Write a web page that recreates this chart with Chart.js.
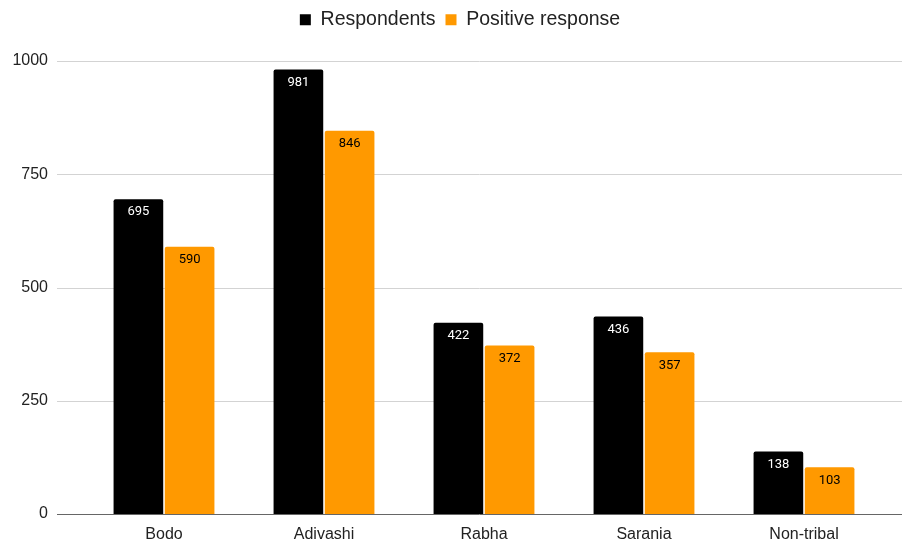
<!DOCTYPE html>
<html>
<head>
<meta charset="utf-8">
<script src="https://cdn.jsdelivr.net/npm/chart.js@4"></script>
<style>
  html, body { margin: 0; padding: 0; background: #fff; overflow: hidden; }
  canvas { display: block; }
</style>
</head>
<body>
<canvas id="chart" width="902" height="544"></canvas>
<script>
const categories = ['Bodo', 'Adivashi', 'Rabha', 'Sarania', 'Non-tribal'];
const respondents = [695, 981, 422, 436, 138];
const positive = [590, 846, 372, 357, 103];
const yTicks = [0, 250, 500, 750, 1000];

// grid lines run wider than the plot area, like the original
const gridPlugin = {
    id: 'wideGrid',
    beforeDatasetsDraw(chart) {
        const ctx = chart.ctx;
        const y = chart.scales.y;
        ctx.save();
        yTicks.forEach(t => {
            const py = Math.round(y.getPixelForValue(t)) + 0.5;
            ctx.strokeStyle = t === 0 ? '#666666' : '#d3d3d3';
            ctx.lineWidth = 1;
            ctx.beginPath();
            ctx.moveTo(57, py);
            ctx.lineTo(chart.width, py);
            ctx.stroke();
        });
        ctx.restore();
    }
};

// value labels inside top of each bar
const labelPlugin = {
    id: 'barLabels',
    afterDatasetsDraw(chart) {
        const ctx = chart.ctx;
        ctx.save();
        ctx.font = '13px Roboto';
        ctx.textAlign = 'center';
        ctx.textBaseline = 'middle';
        chart.data.datasets.forEach((ds, i) => {
            chart.getDatasetMeta(i).data.forEach((bar, j) => {
                ctx.fillStyle = i === 0 ? '#ffffff' : '#000000';
                ctx.fillText(ds.data[j], bar.x, bar.y + 13);
            });
        });
        ctx.restore();
    }
};

// taller legend box, and centre it a bit to the right like the original
const legendFit = {
    id: 'legendFit',
    beforeInit(chart) {
        const fit = chart.legend.fit;
        chart.legend.fit = function() {
            fit.bind(chart.legend)();
            this.height = 61;
        };
    },
    afterLayout(chart) {
        chart.legend.left += 18;
        chart.legend.right += 18;
    }
};

new Chart(document.getElementById('chart'), {
    type: 'bar',
    data: {
        labels: categories,
        datasets: [
            { label: 'Respondents', data: respondents, backgroundColor: '#000000' },
            { label: 'Positive response', data: positive, backgroundColor: '#ff9900' }
        ]
    },
    options: {
        responsive: false,
        animation: false,
        devicePixelRatio: 1,
        layout: { padding: { left: 0, right: 18, top: 0, bottom: 0 } },
        datasets: {
            bar: {
                categoryPercentage: 0.64,
                barPercentage: 0.97,
                borderRadius: { topLeft: 2, topRight: 2 },
                borderSkipped: 'bottom'
            }
        },
        scales: {
            x: {
                grid: { display: false },
                border: { display: false },
                ticks: { color: '#222', font: { family: 'Liberation Sans', size: 16 }, padding: 3 },
                afterFit(scale) { scale.height = 30; }
            },
            y: {
                min: 0,
                max: 1000,
                afterBuildTicks(scale) { scale.ticks = yTicks.map(v => ({ value: v })); },
                grid: { display: false, drawTicks: false },
                border: { display: false },
                ticks: {
                    color: '#222',
                    font: { family: 'Liberation Sans', size: 16 },
                    padding: 36,
                    callback: v => String(v)
                },
                afterFit(scale) {
                    scale.width = 84;
                    scale.paddingTop = 0;
                    scale.paddingBottom = 0;
                }
            }
        },
        plugins: {
            legend: {
                position: 'top',
                labels: {
                    color: '#222',
                    font: { family: 'Liberation Sans', size: 19.5 },
                    boxWidth: 11,
                    boxHeight: 11,
                    padding: 10
                }
            },
            tooltip: { enabled: false }
        }
    },
    plugins: [gridPlugin, labelPlugin, legendFit]
});
</script>
</body>
</html>
